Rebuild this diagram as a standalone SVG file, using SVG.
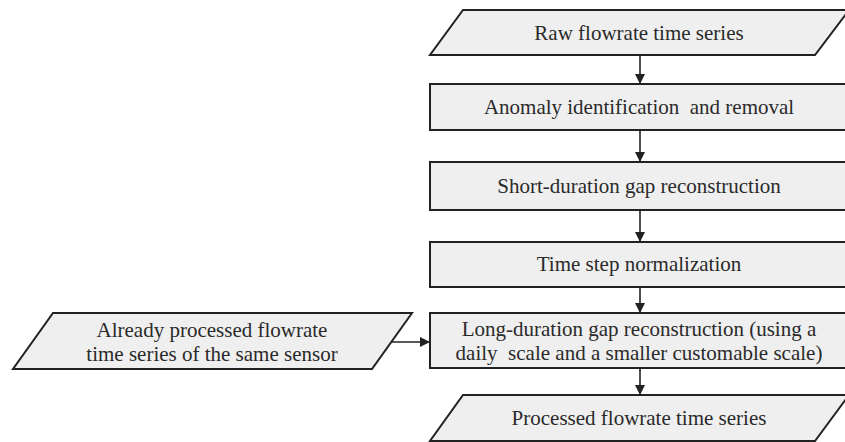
<svg xmlns="http://www.w3.org/2000/svg" width="845" height="442" viewBox="0 0 845 442">
<defs>
<marker id="ah" viewBox="0 0 10 10" refX="10" refY="5" markerWidth="10" markerHeight="10" markerUnits="userSpaceOnUse" orient="auto">
<path d="M0,0 L10,5 L0,10 z" fill="#222"/>
</marker>
<style>
.shape{fill:#efefef;stroke:#222;stroke-width:2}
.t{font-family:"Liberation Serif","Times New Roman",serif;font-size:21px;fill:#2a2a2a;text-anchor:middle;white-space:pre}
.c{stroke:#222;stroke-width:1.6;fill:none;marker-end:url(#ah)}
</style>
</defs>
<rect width="845" height="442" fill="#fff"/>
<g id="raw">
<polygon class="shape" points="463,10 849,10 815,55 430,55"/>
<text class="t" x="639" y="40">Raw flowrate time series</text>
</g>
<g id="anomaly">
<rect class="shape" x="430" y="84" width="420" height="46"/>
<text class="t" x="639" y="114">Anomaly identification  and removal</text>
</g>
<g id="short">
<rect class="shape" x="430" y="162" width="420" height="48"/>
<text class="t" x="639" y="193">Short-duration gap reconstruction</text>
</g>
<g id="timestep">
<rect class="shape" x="430" y="242" width="420" height="45"/>
<text class="t" x="639" y="271">Time step normalization</text>
</g>
<g id="long">
<rect class="shape" x="430" y="313" width="420" height="55"/>
<text class="t" x="639" y="336">Long-duration gap reconstruction (using a</text>
<text class="t" x="639" y="360">daily  scale and a smaller customable scale)</text>
</g>
<g id="processed">
<polygon class="shape" points="463,395 849,395 815,441 430,441"/>
<text class="t" x="639" y="425">Processed flowrate time series</text>
</g>
<g id="already">
<polygon class="shape" points="53,313 412,313 372,369 13,369"/>
<text class="t" x="212" y="337">Already processed flowrate</text>
<text class="t" x="212" y="361">time series of the same sensor</text>
</g>
<g id="connectors">
<line class="c" x1="640" y1="55" x2="640" y2="84"/>
<line class="c" x1="640" y1="130" x2="640" y2="162"/>
<line class="c" x1="640" y1="210" x2="640" y2="242"/>
<line class="c" x1="640" y1="287" x2="640" y2="313"/>
<line class="c" x1="640" y1="368" x2="640" y2="395"/>
<line class="c" x1="392" y1="342" x2="430" y2="342"/>
</g>
</svg>
